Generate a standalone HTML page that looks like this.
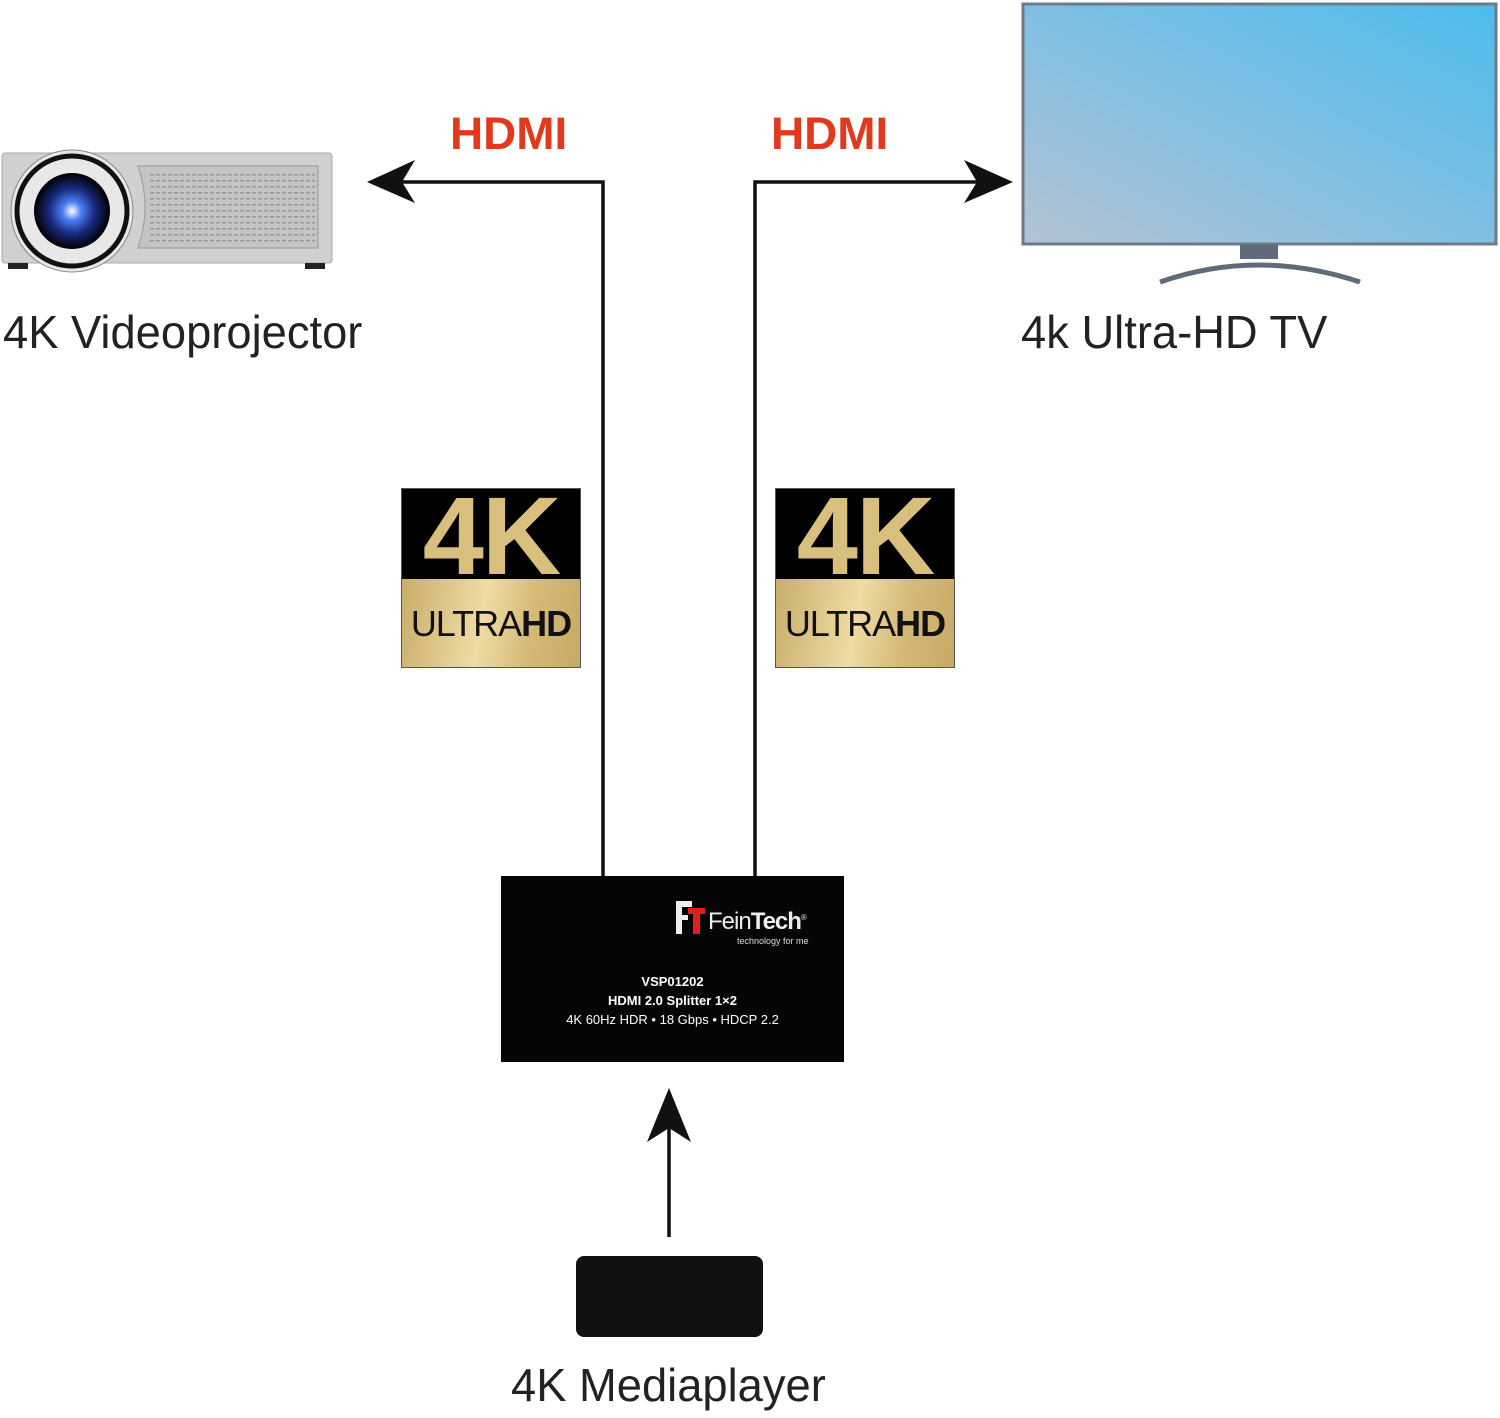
<!DOCTYPE html>
<html><head><meta charset="utf-8"><style>
body{margin:0;width:1500px;height:1418px;background:#fff;position:relative;overflow:hidden;font-family:"Liberation Sans",sans-serif}
.t{position:absolute;white-space:nowrap}
.lbl{font-size:46px;color:#222;transform:scaleX(0.985);transform-origin:left top}
.hdmi{font-size:45px;font-weight:bold;color:#e03a1e;transform:scaleX(1.02);transform-origin:left top}
.badge{position:absolute;width:178px;height:178px;border:1px solid #555;}
.badge .top{height:90px;background:#000;color:#d9bf7d;font-weight:bold;font-size:110px;line-height:96px;text-align:center;letter-spacing:-2px}
.badge .bot{height:88px;background:linear-gradient(100deg,#c9ad6a,#efdca4 45%,#d6bb78 70%,#c6a965);font-size:36px;line-height:90px;text-align:center;color:#111;letter-spacing:-1px}
</style></head><body>
<svg width="1500" height="1418" style="position:absolute;left:0;top:0">
<defs>
<linearGradient id="tv" x1="0" y1="1" x2="1" y2="0"><stop offset="0" stop-color="#b3c2d3"/><stop offset="0.5" stop-color="#7fbfe2"/><stop offset="1" stop-color="#4dbbec"/></linearGradient>
<radialGradient id="lens"><stop offset="0" stop-color="#fff"/><stop offset="0.25" stop-color="#4a7ef0"/><stop offset="0.6" stop-color="#1a2a80"/><stop offset="1" stop-color="#000"/></radialGradient>
<pattern id="grill" width="6" height="6" patternUnits="userSpaceOnUse"><rect width="4" height="1.5" fill="#999"/></pattern>
</defs>
<rect x="2" y="153" width="330" height="110" rx="3" fill="#d0d0d0" stroke="#aaa"/>
<path d="M138 166 H318 V248 H138 Q152 207 138 166Z" fill="#c4c4c4" stroke="#999"/>
<rect x="150" y="170" width="165" height="75" fill="url(#grill)"/>
<rect x="8" y="263" width="20" height="6" fill="#222"/><rect x="305" y="263" width="20" height="6" fill="#222"/>
<circle cx="72" cy="211" r="61" fill="#e8e8e8" stroke="#888"/>
<circle cx="72" cy="211" r="55" fill="none" stroke="#111" stroke-width="5"/>
<circle cx="72" cy="211" r="38" fill="url(#lens)"/>
<rect x="1023" y="4" width="473" height="240" fill="url(#tv)" stroke="#6d7a88" stroke-width="3"/>
<rect x="1240" y="245" width="38" height="14" fill="#5f6b78"/>
<path d="M1160 282 Q1258 248 1360 282" fill="none" stroke="#5f6b78" stroke-width="5"/>
<g stroke="#111" stroke-width="3.5" fill="none">
<path d="M603 888 V182 H395"/>
<path d="M755 876 V182 H985"/>
<path d="M669 1237 V1120"/>
</g>
<path d="M367 182 L415 160 L402 182 L415 203Z" fill="#111"/>
<path d="M1013 182 L964 160 L977 182 L964 203Z" fill="#111"/>
<path d="M669 1088 L647 1142 L669 1128 L691 1142Z" fill="#111"/>
<rect x="501" y="876" width="343" height="186" fill="#050505"/>
<rect x="576" y="1256" width="187" height="81" rx="8" fill="#111"/>
<rect x="676" y="901" width="6" height="33" fill="#eee"/><rect x="676" y="901" width="16" height="6" fill="#eee"/><rect x="676" y="915" width="12" height="5" fill="#eee"/>
<rect x="688" y="908" width="17" height="6" fill="#e02020"/><rect x="693" y="908" width="7" height="26" fill="#e02020"/>
</svg>
<div class="t hdmi" style="left:450px;top:108px">HDMI</div>
<div class="t hdmi" style="left:771px;top:108px">HDMI</div>
<div class="t lbl" style="left:3px;top:305px">4K Videoprojector</div>
<div class="t lbl" style="left:1021px;top:305px">4k Ultra-HD TV</div>
<div class="t lbl" style="left:511px;top:1358px">4K Mediaplayer</div>
<div class="badge" style="left:401px;top:488px"><div class="top">4K</div><div class="bot">ULTRA<b>HD</b></div></div>
<div class="badge" style="left:775px;top:488px"><div class="top">4K</div><div class="bot">ULTRA<b>HD</b></div></div>
<div class="t" style="left:708px;top:908px;color:#eee;font-size:24px;letter-spacing:-1px">Fein<b>Tech</b><sup style="font-size:8px">®</sup></div>
<div class="t" style="left:737px;top:936px;color:#ddd;font-size:9px">technology for me</div>
<div class="t" style="left:501px;width:343px;top:972px;text-align:center;color:#fff;font-size:13px;line-height:19px"><b>VSP01202</b><br><b>HDMI 2.0 Splitter 1×2</b><br>4K 60Hz HDR • 18 Gbps • HDCP 2.2</div>
</body></html>
